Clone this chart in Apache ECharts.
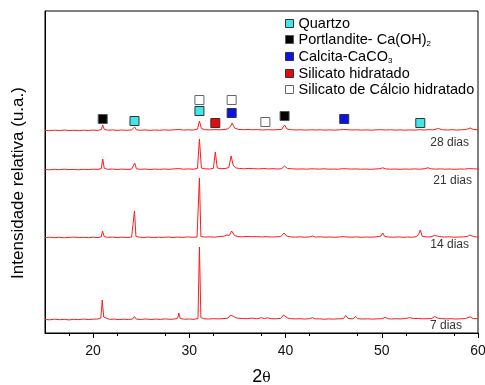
<!DOCTYPE html>
<html>
<head>
<meta charset="utf-8">
<script src="https://cdn.jsdelivr.net/npm/echarts@6/dist/echarts.min.js"></script>
<style>
  html, body { margin: 0; padding: 0; background: #fff; }
  #chart { width: 485px; height: 385px; }
</style>
</head>
<body>
<div id="chart"></div>
<script>
// difratogramas, [2theta, intensidade acima da linha de base] (u.a.)
var p7 = [[15,0.5],[15.5,0.2],[16,0.8],[16.5,0.3],[17,0.6],[17.5,0.1],[18,0.7],[18.5,0.4],[19,0.9],[19.5,0.5],[20,0.8],[20.5,1.0],[20.8,2],[20.95,20],[21.1,3],[21.3,1.2],[21.7,0.6],[22.2,0.9],[22.7,0.4],[23.2,0.8],[23.7,0.5],[24.1,1.0],[24.3,3.5],[24.5,0.8],[25,0.6],[25.5,1.0],[26,0.5],[26.5,0.9],[27,0.6],[27.5,1.1],[28,0.7],[28.5,1.0],[28.8,2],[28.9,7],[29.05,1.5],[29.5,0.8],[30,1.0],[30.5,0.7],[30.9,1.5],[31.05,73],[31.2,2.5],[31.5,1.2],[32,1.0],[32.5,1.3],[33,1.1],[33.5,1.4],[34,1.8],[34.3,5],[34.45,7],[34.7,3],[35,1.8],[35.5,1.5],[36,1.3],[36.5,1.9],[37,1.2],[37.5,2.3],[37.8,1.4],[38.1,2.2],[38.5,1.3],[39,1.2],[39.5,1.6],[39.8,5],[39.95,7],[40.2,2],[40.5,1.4],[41,1.1],[41.5,1.3],[42,0.9],[42.5,1.4],[42.8,2.3],[43.1,1.1],[43.5,1.2],[44,0.8],[44.5,1.1],[45,0.9],[45.5,1.2],[46,1.3],[46.25,4.5],[46.5,1.6],[47,1.2],[47.3,3.5],[47.5,1.3],[48,1.0],[48.5,1.2],[49,0.9],[49.5,1.1],[50,1.3],[50.35,2.6],[50.7,1.2],[51,1.0],[51.5,1.3],[52,1.1],[52.5,1.5],[52.9,2.4],[53.3,1.4],[53.8,1.6],[54.2,1.2],[54.7,1.3],[55.2,1.5],[55.5,3.5],[55.8,1.9],[56.2,1.4],[56.7,1.1],[57.2,1.3],[57.7,1.0],[58.2,1.2],[58.7,1.5],[59.2,3.2],[59.5,1.4],[60,1.3]];
var p14 = [[15,0.4],[15.5,0.8],[16,0.3],[16.5,0.7],[17,0.2],[17.5,0.6],[18,0.9],[18.5,0.4],[19,0.7],[19.5,0.3],[20,0.8],[20.5,0.5],[20.85,1.2],[20.98,7],[21.15,1.4],[21.5,0.6],[22,0.9],[22.5,0.4],[23,0.8],[23.5,0.5],[24,0.9],[24.2,2],[24.3,27],[24.45,1.5],[24.8,0.8],[25.3,0.5],[25.8,0.9],[26.3,0.4],[26.8,0.8],[27.3,0.6],[27.8,1.0],[28.3,0.5],[28.8,0.9],[29.3,0.6],[29.8,1.1],[30.3,0.7],[30.8,1.0],[30.95,2],[31.05,60],[31.2,1.5],[31.6,0.9],[32.1,1.2],[32.6,0.8],[33.1,1.4],[33.6,1.8],[33.9,3],[34.15,2.5],[34.4,7],[34.7,2.5],[35,1.5],[35.5,1.2],[36,1.5],[36.5,1.3],[36.7,2.4],[37,1.4],[37.5,1.1],[38,1.3],[38.5,1.0],[39,1.2],[39.5,1.4],[39.85,5],[40.1,2],[40.5,1.1],[41,0.9],[41.5,1.2],[42,0.8],[42.5,1.1],[42.8,2],[43.1,0.9],[43.6,1.2],[44.1,0.8],[44.6,1.0],[45.1,0.7],[45.6,1.1],[46,1.4],[46.15,2.2],[46.4,1.0],[46.9,0.8],[47.4,1.1],[47.9,0.7],[48.4,1.0],[48.9,0.8],[49.4,1.1],[49.9,1.8],[50.1,5],[50.3,1.6],[50.7,1.0],[51.2,0.8],[51.7,1.1],[52.2,0.7],[52.7,1.0],[53.2,0.8],[53.6,1.3],[53.85,4],[54.0,8],[54.2,1.8],[54.6,1.0],[55.1,1.2],[55.5,2.5],[55.7,3],[56,1.4],[56.5,1.0],[57,1.2],[57.5,0.8],[58,1.0],[58.5,1.1],[58.9,1.6],[59.15,3],[59.4,2],[59.7,1.2],[60,1.0]];
var p21 = [[15,0.5],[15.5,0.2],[16,0.7],[16.5,0.3],[17,0.8],[17.5,0.4],[18,0.6],[18.5,0.2],[19,0.7],[19.5,0.4],[20,0.8],[20.5,0.6],[20.85,1.5],[21.0,11],[21.15,1.8],[21.5,0.7],[22,1.0],[22.5,0.5],[23,0.9],[23.5,0.6],[24,0.8],[24.2,1.5],[24.32,7],[24.5,1.2],[24.9,0.7],[25.4,1.0],[25.9,0.5],[26.4,0.9],[26.9,0.6],[27.4,1.0],[27.9,0.7],[28.4,1.1],[28.9,1.4],[29.4,0.8],[29.9,1.1],[30.4,0.8],[30.85,1.6],[31.05,31],[31.25,2],[31.6,1.2],[32.1,1.0],[32.5,1.6],[32.7,18],[32.9,2],[33.3,1.3],[33.8,1.6],[34.1,2.5],[34.35,14],[34.55,5],[34.8,2.2],[35.2,1.5],[35.7,1.2],[36.2,1.6],[36.7,1.3],[37.2,1.1],[37.7,1.5],[38.2,1.1],[38.7,1.3],[39.2,1.0],[39.6,1.4],[39.9,4],[40.2,1.5],[40.7,1.2],[41.2,0.9],[41.7,1.1],[42.2,0.8],[42.6,1.2],[42.8,3],[43.0,1.1],[43.5,0.9],[44,1.2],[44.5,0.8],[45,1.0],[45.5,0.8],[45.9,1.3],[46.1,3],[46.35,1.2],[46.8,0.9],[47.3,1.1],[47.8,0.8],[48.3,1.0],[48.8,0.7],[49.3,1.0],[49.8,1.3],[50.1,2.2],[50.4,1.1],[50.9,0.8],[51.4,1.0],[51.9,0.7],[52.4,1.0],[52.9,0.8],[53.4,1.1],[53.9,0.8],[54.4,1.2],[54.8,2.2],[55.1,1.2],[55.6,0.9],[56.1,1.1],[56.6,0.8],[57.1,1.0],[57.6,0.7],[58.1,1.0],[58.6,0.9],[59.0,1.4],[59.2,2.3],[59.5,1.2],[60,1.0]];
var p28 = [[15,0.6],[15.5,0.3],[16,0.8],[16.5,0.4],[17,0.9],[17.5,0.5],[18,0.7],[18.5,0.3],[19,0.8],[19.5,0.5],[20,0.9],[20.5,0.6],[20.85,1.5],[21.0,6],[21.15,1.8],[21.5,0.8],[22,1.1],[22.5,0.6],[23,1.0],[23.5,0.7],[24,1.1],[24.2,1.6],[24.32,4],[24.5,1.2],[24.9,0.7],[25.4,1.1],[25.9,0.6],[26.4,1.0],[26.9,0.7],[27.4,1.1],[27.9,0.8],[28.4,1.2],[28.9,1.6],[29.4,0.9],[29.9,1.2],[30.4,0.9],[30.85,2],[31.05,10],[31.25,2.5],[31.6,1.3],[32.1,1.1],[32.6,1.4],[33.1,1.2],[33.6,1.5],[34.0,2],[34.3,5],[34.45,8],[34.7,3],[35.1,1.6],[35.6,1.3],[36.1,1.5],[36.6,1.2],[37.1,1.4],[37.6,1.0],[38.1,1.3],[38.6,1.1],[39.1,1.3],[39.6,1.6],[39.9,6],[40.15,2],[40.6,1.3],[41.1,1.0],[41.6,1.2],[42.1,0.9],[42.6,1.2],[43.1,1.0],[43.6,1.2],[44.1,0.9],[44.6,1.1],[45.1,0.8],[45.6,1.2],[46.0,1.6],[46.15,3],[46.4,1.3],[46.9,1.0],[47.4,1.2],[47.9,0.9],[48.4,1.1],[48.9,0.8],[49.4,1.1],[49.9,1.3],[50.4,1.0],[50.9,1.2],[51.4,0.9],[51.9,1.1],[52.4,0.8],[52.9,1.1],[53.4,0.9],[53.9,1.3],[54.4,1.0],[54.9,1.4],[55.3,1.1],[55.9,2.5],[56.3,1.2],[56.8,1.0],[57.3,1.3],[57.8,1.0],[58.3,1.2],[58.8,1.6],[59.2,3],[59.5,1.5],[60,1.2]];

// deslocamento vertical de cada curva
var amostras = ['7 dias', '14 dias', '21 dias', '28 dias'];
var offsets = [13, 95, 163, 202];

// marcadores de fases [2theta, altura]
var quartzo = [[24.3,212],[31.05,222],[54.0,210]];
var portlandite = [[21.0,214],[39.9,217]];
var calcita = [[34.4,220],[46.1,214]];
var silicatoHid = [[32.7,210]];
var csh = [[31.05,233],[34.4,233],[37.9,211]];

var xTicks = [15, 20, 30, 40, 50, 60];

var chart = echarts.init(document.getElementById('chart'));
var font = 'Liberation Sans, Arial, sans-serif';

var curvas = [p7, p14, p21, p28];
var series = [];
curvas.forEach(function (pts, i) {
  series.push({
    name: amostras[i],
    type: 'line',
    showSymbol: false,
    silent: true,
    lineStyle: { color: '#ff1a1a', width: 1 },
    data: pts.map(function (p) { return [p[0], p[1] + offsets[i]]; })
  });
});

var fases = [
  { name: 'Quartzo', data: quartzo, color: '#3ee8e8', border: '#333' },
  { name: 'Portlandite- Ca(OH)2', data: portlandite, color: '#000', border: '#555' },
  { name: 'Calcita-CaCO3', data: calcita, color: '#0a14e6', border: '#333' },
  { name: 'Silicato hidratado', data: silicatoHid, color: '#e60a0a', border: '#333' },
  { name: 'Silicato de Cálcio hidratado', data: csh, color: '#fff', border: '#666' }
];
fases.forEach(function (f) {
  series.push({
    name: f.name,
    type: 'scatter',
    symbol: 'rect',
    symbolSize: 9,
    itemStyle: { color: f.color, borderColor: f.border, borderWidth: 1, opacity: 1 },
    data: f.data
  });
});

var option = {
  backgroundColor: '#fff',
  animation: false,
  grid: {
    left: 45, right: 7, top: 11, bottom: 52,
    outerBoundsMode: 'none',
    containLabel: false,
    show: true, borderColor: '#000', borderWidth: 1
  },
  legend: {
    orient: 'vertical',
    left: 285,
    top: 16,
    itemWidth: 8,
    itemHeight: 8,
    itemGap: 1,
    padding: 0,
    data: fases.map(function (f) { return { name: f.name, itemStyle: { color: f.color, borderColor: f.border, borderWidth: 1 } }; }),
    formatter: function (name) {
      if (name === 'Portlandite- Ca(OH)2') return 'Portlandite- Ca(OH){s|2}';
      if (name === 'Calcita-CaCO3') return 'Calcita-CaCO{s|3}';
      return name;
    },
    textStyle: {
      fontFamily: font, fontSize: 14.5, color: '#000', lineHeight: 15,
      rich: { s: { fontFamily: font, fontSize: 8, color: '#000', padding: [9, 0, 0, 0] } }
    }
  },
  xAxis: {
    type: 'value',
    min: 15,
    max: 60,
    interval: 5,
    name: '2{t|θ}',
    nameLocation: 'middle',
    nameGap: 35,
    nameTextStyle: {
      fontFamily: font, fontSize: 18, color: '#000',
      rich: { t: { fontFamily: 'DejaVu Serif, serif', fontSize: 14, color: '#000', padding: [3, 0, 0, 0] } }
    },
    axisLine: { show: true, lineStyle: { color: '#000', width: 1 } },
    axisTick: { show: true, length: 5, inside: false, lineStyle: { color: '#000' },
      customValues: xTicks.slice(1) },
    minorTick: { show: true, splitNumber: 2, length: 3, lineStyle: { color: '#000' } },
    axisLabel: {
      fontFamily: font, fontSize: 14, color: '#111', margin: 11,
      customValues: xTicks.slice(1)
    },
    splitLine: { show: false }
  },
  yAxis: {
    type: 'value',
    min: 0,
    max: 322,
    axisLine: { show: true, lineStyle: { color: '#000', width: 1 } },
    axisTick: { show: false },
    axisLabel: { show: false },
    splitLine: { show: false }
  },
  graphic: [
    { type: 'text', x: 18, y: 183, rotation: Math.PI / 2,
      style: { text: 'Intensidade relativa (u.a.)', font: '17px ' + font, fill: '#000', align: 'center', verticalAlign: 'middle' } },
    { type: 'text', x: 469, y: 143, style: { text: '28 dias', font: '12px ' + font, fill: '#333', align: 'right', verticalAlign: 'middle' } },
    { type: 'text', x: 472, y: 181, style: { text: '21 dias', font: '12px ' + font, fill: '#333', align: 'right', verticalAlign: 'middle' } },
    { type: 'text', x: 469, y: 245, style: { text: '14 dias', font: '12px ' + font, fill: '#333', align: 'right', verticalAlign: 'middle' } },
    { type: 'text', x: 462, y: 326, style: { text: '7 dias', font: '12px ' + font, fill: '#333', align: 'right', verticalAlign: 'middle' } }
  ],
  series: series
};

chart.setOption(option);
</script>
</body>
</html>
